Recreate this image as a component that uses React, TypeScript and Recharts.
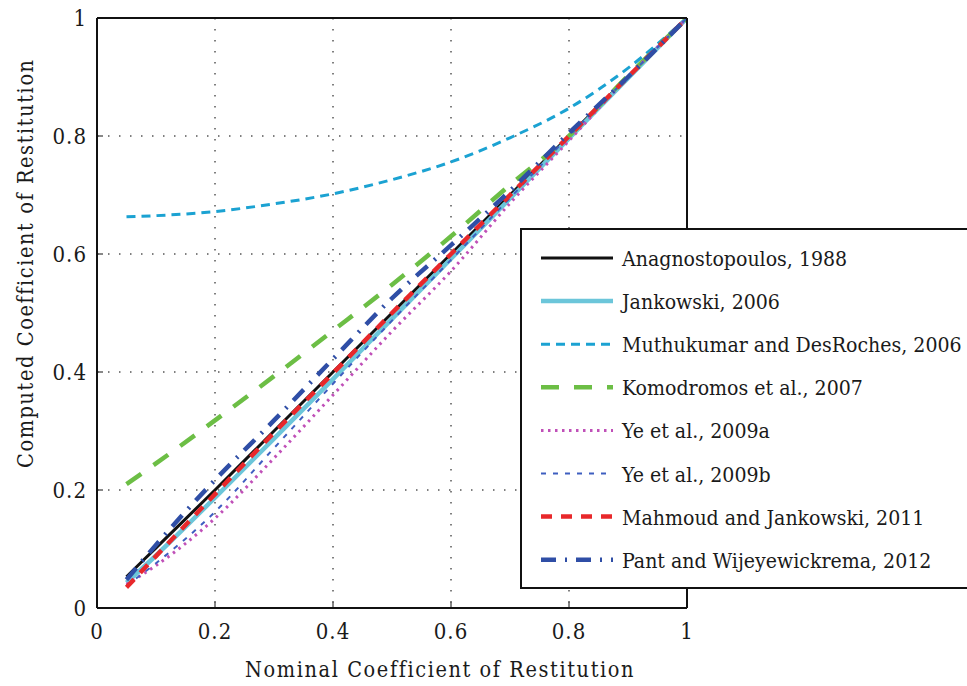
import React from 'react';
import { LineChart, Line, XAxis, YAxis, CartesianGrid } from 'recharts';

// ---- data ----
const nominal = [0.05, 0.1, 0.2, 0.3, 0.4, 0.5, 0.6, 0.7, 0.8, 0.9, 1.0];
const anagnostopoulos1988 = [0.053, 0.102, 0.2, 0.3, 0.4, 0.5, 0.6, 0.7, 0.8, 0.9, 1.0];
const jankowski2006 = [0.043, 0.089, 0.187, 0.287, 0.388, 0.49, 0.592, 0.694, 0.796, 0.898, 1.0];
const muthukumar2006 = [0.663, 0.665, 0.672, 0.685, 0.702, 0.726, 0.756, 0.797, 0.847, 0.915, 1.0];
const komodromos2007 = [0.21, 0.245, 0.318, 0.393, 0.47, 0.548, 0.63, 0.717, 0.8, 0.902, 1.0];
const ye2009a = [0.04, 0.072, 0.152, 0.254, 0.361, 0.469, 0.571, 0.686, 0.792, 0.9, 1.0];
const ye2009b = [0.038, 0.076, 0.163, 0.271, 0.38, 0.487, 0.59, 0.695, 0.8, 0.9, 1.0];
const mahmoud2011 = [0.035, 0.088, 0.193, 0.297, 0.398, 0.5, 0.6, 0.7, 0.8, 0.9, 1.0];
const pant2012 = [0.048, 0.107, 0.217, 0.318, 0.422, 0.525, 0.615, 0.707, 0.805, 0.9, 1.0];

const seriesNames = [
  'Anagnostopoulos, 1988',
  'Jankowski, 2006',
  'Muthukumar and DesRoches, 2006',
  'Komodromos et al., 2007',
  'Ye et al., 2009a',
  'Ye et al., 2009b',
  'Mahmoud and Jankowski, 2011',
  'Pant and Wijeyewickrema, 2012',
];
const seriesValues = [
  anagnostopoulos1988,
  jankowski2006,
  muthukumar2006,
  komodromos2007,
  ye2009a,
  ye2009b,
  mahmoud2011,
  pant2012,
];

const axisTicks = [0, 0.2, 0.4, 0.6, 0.8, 1];
const axisTickLabels = ['0', '0.2', '0.4', '0.6', '0.8', '1'];
const xTitle = 'Nominal Coefficient of Restitution';
const yTitle = 'Computed Coefficient of Restitution';

// ---- styles ----
const styles = [
  { color: '#111111', width: 3, dash: undefined },
  { color: '#6CC6DA', width: 4.5, dash: undefined },
  { color: '#1BA2D2', width: 3, dash: '9 6' },
  { color: '#6CBE45', width: 4.5, dash: '18 15' },
  { color: '#C050B8', width: 3, dash: '2.5 4.5' },
  { color: '#3E5EC0', width: 2, dash: '5 7' },
  { color: '#E8282B', width: 4.5, dash: '11 9' },
  { color: '#2F4EA6', width: 4.5, dash: '15 9 2 9' },
];

const keys = seriesNames.map((_, i) => 's' + i);
const data = nominal.map((x, r) => {
  const row: Record<string, number> = { x };
  keys.forEach((k, i) => {
    row[k] = seriesValues[i][r];
  });
  return row;
});

const FONT = '"DejaVu Serif Condensed", "DejaVu Serif"';
const fmt = (v: number) => {
  const i = axisTicks.indexOf(v);
  return i >= 0 ? axisTickLabels[i] : String(v);
};
const tickStyle = { fontSize: 22, fontFamily: FONT, fill: '#1a1a1a', letterSpacing: 1 };

export default function App() {
  return (
    <div
      style={{
        position: 'fixed',
        left: 0,
        top: 0,
        width: 967,
        height: 686,
        overflow: 'hidden',
        background: '#fff',
      }}
    >
      <LineChart
        width={967}
        height={686}
        data={data}
        margin={{ top: 17, right: 279, bottom: 38, left: 37 }}
      >
        <CartesianGrid
          xAxisId="b"
          yAxisId="l"
          stroke="#000"
          strokeWidth={1}
          strokeDasharray="1.5 9.5"
        />
        <XAxis
          xAxisId="b"
          dataKey="x"
          type="number"
          domain={[0, 1]}
          allowDataOverflow
          ticks={axisTicks}
          tickFormatter={fmt}
          height={40}
          tickSize={-6}
          tickMargin={21}
          axisLine={{ stroke: '#111', strokeWidth: 2 }}
          tickLine={{ stroke: '#111', strokeWidth: 1 }}
          tick={tickStyle}
          interval={0}
        />
        <XAxis
          xAxisId="t"
          orientation="top"
          dataKey="x"
          type="number"
          domain={[0, 1]}
          allowDataOverflow
          ticks={axisTicks}
          height={1}
          tickSize={-6}
          axisLine={{ stroke: '#111', strokeWidth: 2 }}
          tickLine={{ stroke: '#111', strokeWidth: 1 }}
          tick={false}
          interval={0}
        />
        <YAxis
          yAxisId="l"
          type="number"
          domain={[0, 1]}
          allowDataOverflow
          ticks={axisTicks}
          tickFormatter={fmt}
          width={60}
          tickSize={-6}
          tickMargin={16}
          axisLine={{ stroke: '#111', strokeWidth: 2 }}
          tickLine={{ stroke: '#111', strokeWidth: 1 }}
          tick={tickStyle}
          interval={0}
        />
        <YAxis
          yAxisId="r"
          orientation="right"
          type="number"
          domain={[0, 1]}
          allowDataOverflow
          ticks={axisTicks}
          width={1}
          tickSize={-6}
          axisLine={{ stroke: '#111', strokeWidth: 2 }}
          tickLine={{ stroke: '#111', strokeWidth: 1 }}
          tick={false}
          interval={0}
        />
        {keys.map((k, i) => (
          <Line
            key={k}
            xAxisId="b"
            yAxisId="l"
            type="monotone"
            dataKey={k}
            name={seriesNames[i]}
            stroke={styles[i].color}
            strokeWidth={styles[i].width}
            strokeDasharray={styles[i].dash}
            dot={false}
            activeDot={false}
            isAnimationActive={false}
          />
        ))}
      </LineChart>

      {/* axis titles */}
      <svg
        width={967}
        height={686}
        style={{ position: 'absolute', left: 0, top: 0, pointerEvents: 'none' }}
      >
        <text
          x={245}
          y={677}
          style={{ fontFamily: FONT, fontSize: 21.5 }}
          fill="#1a1a1a"
          letterSpacing={1.6}
        >
          {xTitle}
        </text>
        <text
          transform="translate(33,468) rotate(-90)"
          x={0}
          y={0}
          style={{ fontFamily: FONT, fontSize: 21.5 }}
          fill="#1a1a1a"
          letterSpacing={1.6}
        >
          {yTitle}
        </text>
      </svg>

      {/* legend */}
      <div
        style={{
          position: 'absolute',
          left: 520,
          top: 228,
          width: 470,
          height: 357,
          border: '2px solid #111',
          background: '#fff',
        }}
      >
        <svg width={470} height={357} style={{ display: 'block' }}>
          {seriesNames.map((name, i) => {
            const cy = 28 + i * 43.1;
            return (
              <g key={name}>
                <line
                  x1={19}
                  x2={91}
                  y1={cy}
                  y2={cy}
                  stroke={styles[i].color}
                  strokeWidth={styles[i].width}
                  strokeDasharray={styles[i].dash}
                />
                <text
                  x={100}
                  y={cy + 8}
                  style={{ fontFamily: FONT, fontSize: 21.1 }}
                  fill="#1a1a1a"
                >
                  {name}
                </text>
              </g>
            );
          })}
        </svg>
      </div>
    </div>
  );
}
